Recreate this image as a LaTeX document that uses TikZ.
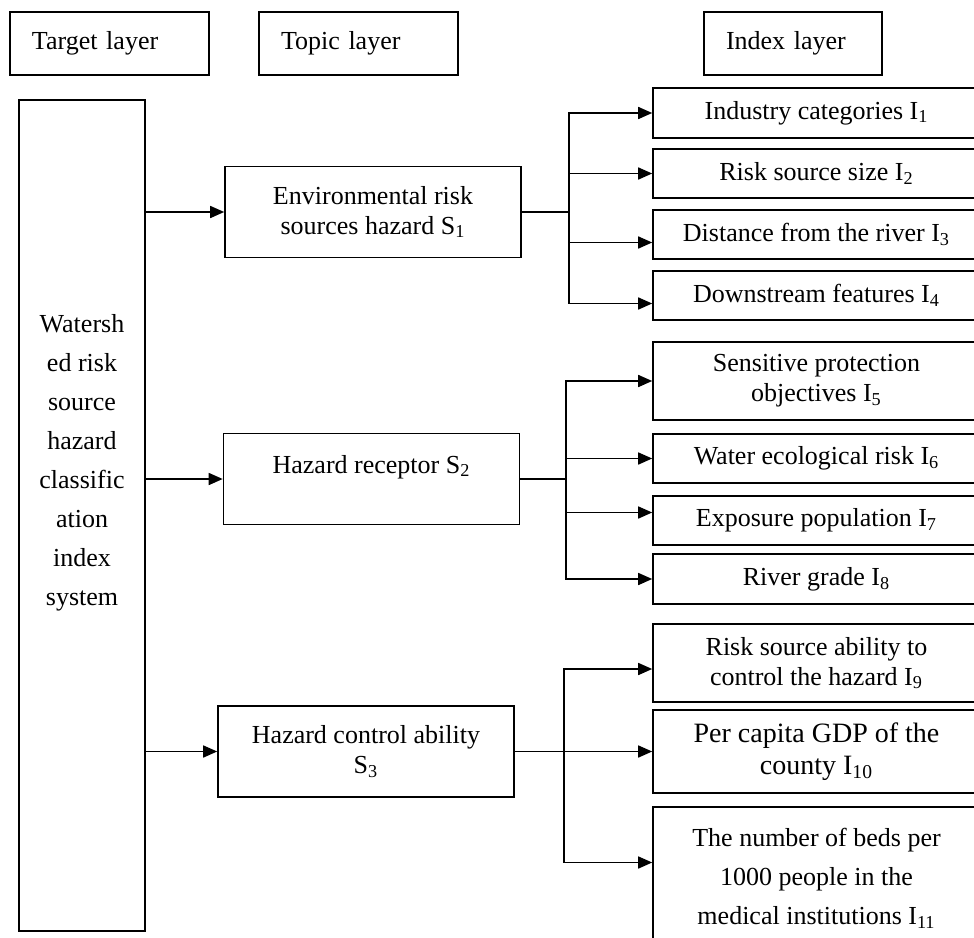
\documentclass[tikz,border=0pt]{standalone}
\usepackage{fontspec}
\setmainfont{Liberation Serif}
\usetikzlibrary{arrows.meta}
\tikzset{
  box/.style={draw,line width=0.8pt,align=center,inner sep=2pt,font=\fontsize{13}{15}\selectfont},
  hdrbox/.style={box,align=left,inner xsep=11pt,minimum height=31.5pt},
  topicbox/.style={box,minimum width=148pt,minimum height=45.5pt},
  idxbox/.style={box,minimum width=163.5pt},
  link/.style={line width=0.8pt,-{Triangle[length=7pt,width=6pt]}},
  bus/.style={line width=0.8pt},
}
\begin{document}
\begin{tikzpicture}[x=0.5pt,y=-0.5pt]
  \useasboundingbox (0,0) rectangle (974,937);
  %% layer headings
  \node[hdrbox,text width=77.5pt] (hTarget) at (109.5,43.5) {Target layer};
  \node[hdrbox,text width=77.5pt] (hTopic) at (358.5,43.5) {Topic layer};
  \node[hdrbox,text width=67pt] (hIndex) at (793,43.5) {Index layer};
  %% target layer
  \node[draw,line width=0.8pt,minimum width=63pt,minimum height=415.5pt] (T) at (82,515.5) {};
  \node[align=center,font=\fontsize{13}{19.5}\selectfont] (Ttext) at (82,463)
    {Watersh\\ed risk\\source\\hazard\\classific\\ation\\index\\system};
  %% topic layer
  \node[topicbox] (S1) at (373,212) {Environmental risk\\sources hazard S\textsubscript{1}};
  \node[topicbox] (S2) at (371.5,479) {Hazard receptor S\textsubscript{2}\\ \mbox{}};
  \node[topicbox] (S3) at (366,751.5) {Hazard control ability\\S\textsubscript{3}};
  %% index layer
  \node[idxbox,minimum height=25pt] (I1) at (816.5,113) {Industry categories I\textsubscript{1}};
  \node[idxbox,minimum height=24.5pt] (I2) at (816.5,173.5) {Risk source size I\textsubscript{2}};
  \node[idxbox,minimum height=24.5pt] (I3) at (816.5,234.5) {Distance from the river I\textsubscript{3}};
  \node[idxbox,minimum height=24.5pt] (I4) at (816.5,295.5) {Downstream features I\textsubscript{4}};
  \node[idxbox,minimum height=39pt] (I5) at (816.5,381) {Sensitive protection\\objectives I\textsubscript{5}};
  \node[idxbox,minimum height=24.5pt] (I6) at (816.5,458.5) {Water ecological risk I\textsubscript{6}};
  \node[idxbox,minimum height=24.5pt] (I7) at (816.5,520.5) {Exposure population I\textsubscript{7}};
  \node[idxbox,minimum height=25pt] (I8) at (816.5,579) {River grade I\textsubscript{8}};
  \node[idxbox,minimum height=39pt] (I9) at (816.5,663) {Risk source ability to\\control the hazard I\textsubscript{9}};
  \node[idxbox,minimum height=41.5pt,font=\fontsize{14}{16}\selectfont] (I10) at (816.5,751.5) {Per capita GDP of the\\county I\textsubscript{10}};
  \node[idxbox,minimum height=71.5pt,font=\fontsize{13}{19.5}\selectfont] (I11) at (816.5,878.5)
    {The number of beds per\\1000 people in the\\medical institutions I\textsubscript{11}};
  %% target -> topics
  \draw[link] (T.east |- S1.west) -- (S1.west);
  \draw[link] (T.east |- S2.west) -- (S2.west);
  \draw[link] (T.east |- S3.west) -- (S3.west);
  %% topics -> indices
  \coordinate (b1) at (569,0 |- S1.east);
  \coordinate (b2) at (566,0 |- S2.east);
  \coordinate (b3) at (564,0 |- S3.east);
  \draw[bus] (S1.east) -- (b1);
  \draw[link] (b1) |- (I1.west);
  \draw[link] (b1) |- (I2.west);
  \draw[link] (b1) |- ([yshift=-4pt]I3.west);
  \draw[link] (b1) |- ([yshift=-4pt]I4.west);
  \draw[bus] (S2.east) -- (b2);
  \draw[link] (b2) |- (I5.west);
  \draw[link] (b2) |- (I6.west);
  \draw[link] (b2) |- ([yshift=4pt]I7.west);
  \draw[link] (b2) |- (I8.west);
  \draw[bus] (S3.east) -- (b3);
  \draw[link] (b3) |- ([yshift=-3pt]I9.west);
  \draw[link] (b3) |- (I10.west);
  \draw[link] (b3) |- ([yshift=8pt]I11.west);
\end{tikzpicture}
\end{document}
